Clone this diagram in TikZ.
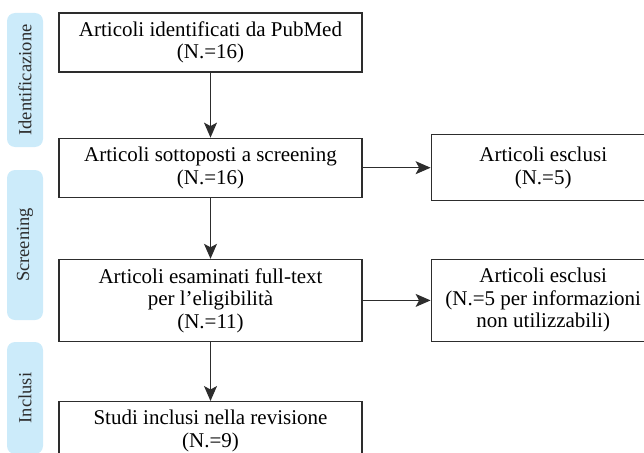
\documentclass[tikz,border=0pt]{standalone}
\usepackage{fontspec}
\setmainfont{Liberation Serif}
\usetikzlibrary{positioning,arrows.meta}

\definecolor{bandblue}{RGB}{204,235,250}
\definecolor{linegray}{RGB}{45,45,45}

\tikzset{
	box/.style={draw=linegray, line width=1.2pt, minimum width=303pt, minimum height=59pt,
		align=center, inner sep=0pt, text=black, font=\fontsize{21}{22.5}\selectfont},
	exclbox/.style={box, minimum width=224pt},
	band/.style={fill=bandblue, rounded corners=8pt, rotate=90, minimum height=36pt,
		inner sep=0pt, text=linegray, font=\fontsize{18.5}{20}\selectfont},
	arr/.style={draw=linegray, line width=1.2pt, -{Stealth[length=15pt,width=13pt,inset=3.5pt]}}
}

\begin{document}
\begin{tikzpicture}[x=1pt,y=-1pt]
	\useasboundingbox (0,0) rectangle (644,452);
	\clip (0,0) rectangle (644,452);
	
	% fasi
	\node[band, minimum width=134pt] (fident) at (25,80) {Identificazione};
	\node[band, minimum width=150pt] (fscreen) at (25,245) {Screening};
	\node[band, minimum width=112pt] (fincl) at (25,398) {Inclusi};
	
	% riquadri
	\node[box] (ident) at (210.5,42.5) {Articoli identificati da PubMed\\(N.=16)};
	\node[box, below=65pt of ident] (screen) {Articoli sottoposti a screening\\(N.=16)};
	\node[box, minimum height=82pt, below=61pt of screen] (full) {Articoli esaminati full-text\\per l’eligibilità\\(N.=11)};
	\node[box, below=59pt of full] (incl) {Studi inclusi nella revisione\\(N.=9)};
	\node[exclbox, minimum height=66pt, right=68pt of screen] (excla) {Articoli esclusi\\(N.=5)};
	\node[exclbox, minimum height=82pt, right=68pt of full] (exclb) {Articoli esclusi\\(N.=5 per informazioni\\non utilizzabili)};
	
	\draw[arr] (ident) -- (screen);
	\draw[arr] (screen) -- (full);
	\draw[arr] (full) -- (incl);
	\draw[arr] (screen) -- (excla);
	\draw[arr] (full) -- (exclb);
\end{tikzpicture}
\end{document}
